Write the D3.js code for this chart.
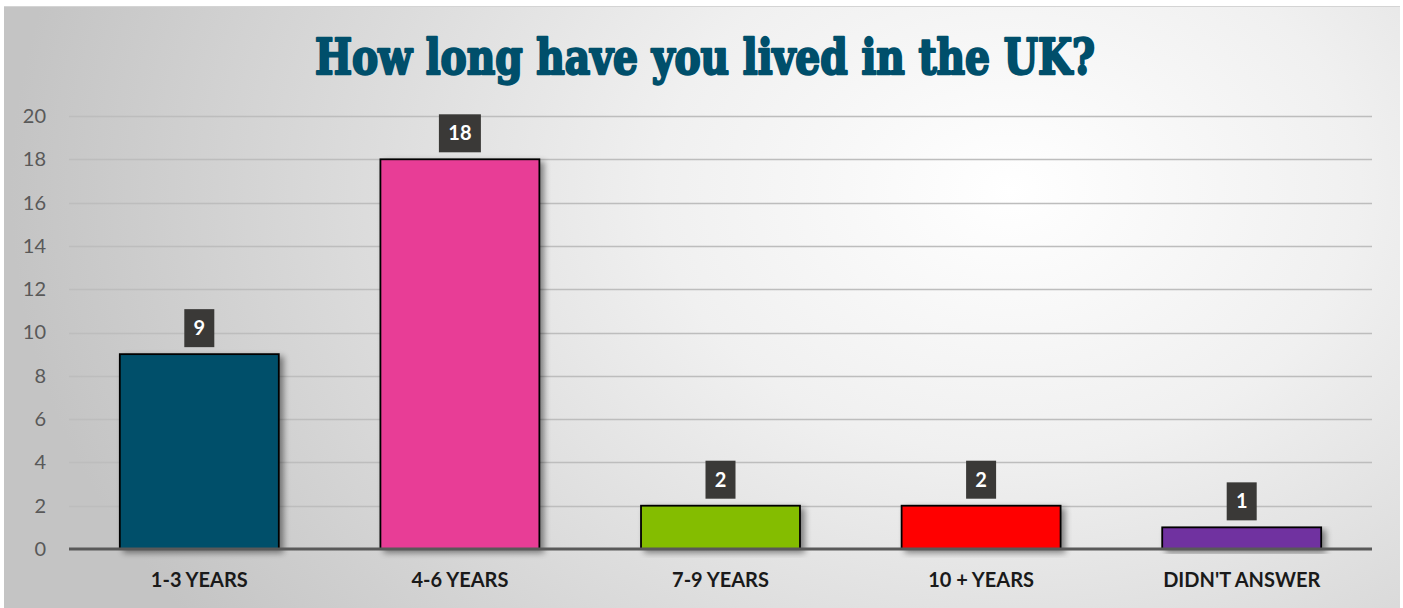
<!DOCTYPE html>
<html><head><meta charset="utf-8">
<script src="https://cdn.jsdelivr.net/npm/d3@7"></script>
<style>html,body{margin:0;padding:0;background:#fff;}svg{display:block;}</style>
</head><body>
<svg id="chart" width="1403" height="608"></svg>
<script>
const categories = ["1-3 YEARS", "4-6 YEARS", "7-9 YEARS", "10 + YEARS", "DIDN'T ANSWER"];
const values = [9, 18, 2, 2, 1];
const barColors = ["#004f6b", "#e83e96", "#84bd00", "#ff0000", "#7030a0"];
const yTicks = [0, 2, 4, 6, 8, 10, 12, 14, 16, 18, 20];
const title = "How long have you lived in the UK?";

(function () {
const svg = d3.select("#chart");
const defs = svg.append("defs");
const grad = defs.append("radialGradient").attr("id", "bg")
  .attr("gradientUnits", "userSpaceOnUse")
  .attr("cx", 1010).attr("cy", 190).attr("r", 1000)
  .attr("gradientTransform", "translate(1010,190) scale(1,0.75) translate(-1010,-190)");
grad.append("stop").attr("offset", "0").attr("stop-color", "#ffffff");
grad.append("stop").attr("offset", "0.35").attr("stop-color", "#f0f0f0");
grad.append("stop").attr("offset", "1").attr("stop-color", "#c4c4c4");

const shadow = defs.append("filter").attr("id", "sh").attr("x", "-20%").attr("y", "-20%").attr("width", "140%").attr("height", "140%");
shadow.append("feGaussianBlur").attr("in", "SourceAlpha").attr("stdDeviation", 3).attr("result", "b");
shadow.append("feOffset").attr("in", "b").attr("dx", 4).attr("dy", 3).attr("result", "o");
shadow.append("feComponentTransfer").attr("in", "o").attr("result", "o2")
  .append("feFuncA").attr("type", "linear").attr("slope", 0.45);
const m = shadow.append("feMerge");
m.append("feMergeNode").attr("in", "o2");
m.append("feMergeNode").attr("in", "SourceGraphic");

svg.append("rect").attr("x", 4).attr("y", 6).attr("width", 1396).attr("height", 602)
  .attr("fill", "url(#bg)");
svg.append("line").attr("x1", 4).attr("x2", 1400).attr("y1", 6.5).attr("y2", 6.5)
  .attr("stroke", "#d4d4d4").attr("stroke-width", 1);

const pL = 69, pR = 1372, pT = 116, pB = 549;
const x = d3.scaleBand().domain(categories).range([pL, pR]).paddingInner(0.39).paddingOuter(0.195);
const y = d3.scaleLinear().domain([0, 20]).range([pB, pT]);

// gridlines
svg.append("g").selectAll("line").data(yTicks.filter(d => d > 0)).join("line")
  .attr("x1", pL).attr("x2", pR)
  .attr("y1", d => Math.round(y(d)) + 0.5).attr("y2", d => Math.round(y(d)) + 0.5)
  .attr("stroke", "#bdbdbd").attr("stroke-width", 1.3);

// y axis labels
const yAxis = d3.axisLeft(y).tickValues(yTicks).tickSize(0).tickPadding(0);
const gy = svg.append("g").attr("transform", `translate(46,0)`).call(yAxis);
gy.select(".domain").remove();
gy.selectAll("text").attr("font-family", "Lato, 'Open Sans', sans-serif").attr("font-size", 20)
  .attr("fill", "#595959");

// bars
svg.append("g").selectAll("rect").data(values).join("rect")
  .attr("x", (d, i) => x(categories[i]))
  .attr("y", d => y(d))
  .attr("width", x.bandwidth())
  .attr("height", d => pB - y(d))
  .attr("fill", (d, i) => barColors[i])
  .attr("stroke", "#000").attr("stroke-width", 1.8)
  .attr("filter", "url(#sh)");

// baseline
svg.append("line").attr("x1", pL).attr("x2", pR).attr("y1", pB).attr("y2", pB)
  .attr("stroke", "#595959").attr("stroke-width", 3);

// x axis labels
const xAxis = d3.axisBottom(x).tickSize(0).tickPadding(0);
const gx = svg.append("g").attr("transform", `translate(0,${pB + 38})`).call(xAxis);
gx.select(".domain").remove();
gx.selectAll("text").attr("dy", 0).attr("font-family", "Lato, 'Open Sans', sans-serif")
  .attr("font-size", 20).attr("font-weight", "bold").attr("fill", "#1a1a1a");

// data labels
const lab = svg.append("g").selectAll("g").data(values).join("g")
  .attr("transform", (d, i) => `translate(${x(categories[i]) + x.bandwidth() / 2},${y(d) - 7})`);
lab.append("rect")
  .attr("x", d => String(d).length > 1 ? -21 : -15)
  .attr("width", d => String(d).length > 1 ? 42 : 30)
  .attr("y", -38).attr("height", 38).attr("fill", "#3a3937");
lab.append("text").attr("text-anchor", "middle").attr("y", -12)
  .attr("font-family", "Lato, 'Open Sans', sans-serif").attr("font-weight", "bold")
  .attr("font-size", 20).attr("fill", "#fff").text(d => d);

// title
svg.append("text").attr("x", 705).attr("y", 74).attr("text-anchor", "middle")
  .attr("font-family", "'DejaVu Serif', serif").attr("font-weight", "bold")
  .attr("font-size", 48).attr("fill", "#004f6b")
  .attr("stroke", "#004f6b").attr("stroke-width", 2.4).attr("stroke-linejoin", "round")
  .attr("textLength", 780).attr("lengthAdjust", "spacingAndGlyphs")
  .text(title);
})();
</script>
</body></html>
